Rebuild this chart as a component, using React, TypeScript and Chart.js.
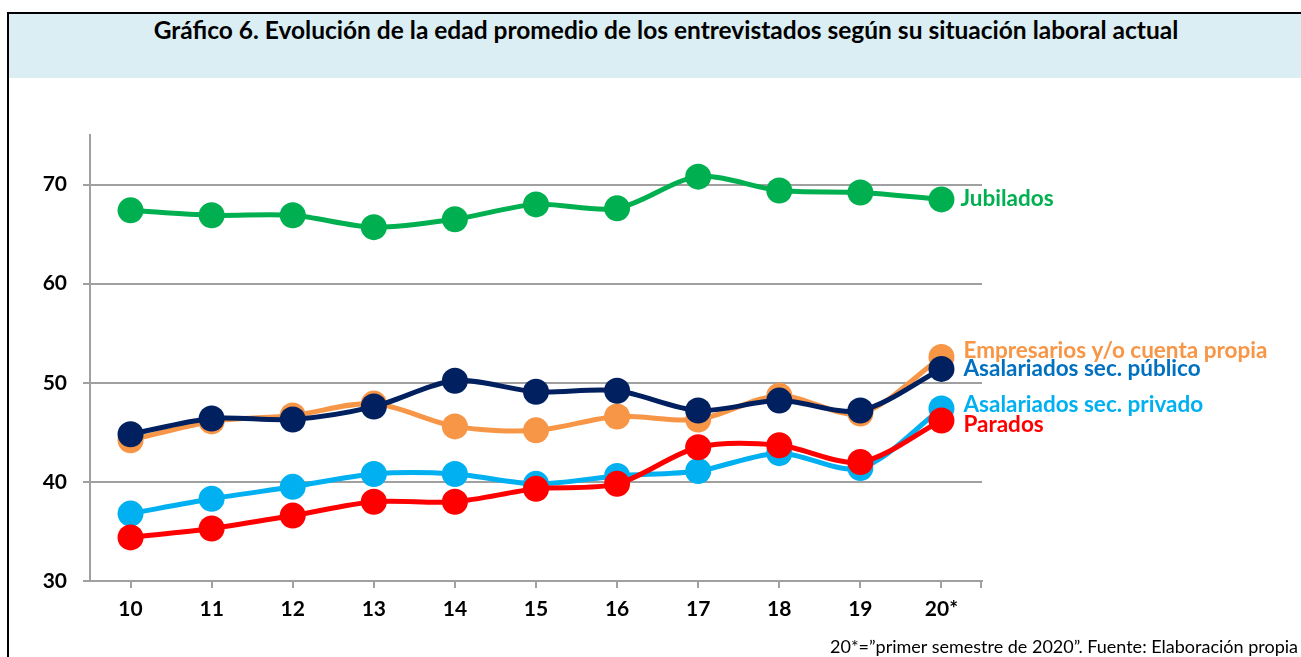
import React, { useEffect, useRef } from "react";
import { Chart, registerables } from "chart.js";

Chart.register(...registerables);

const categories = ["10", "11", "12", "13", "14", "15", "16", "17", "18", "19", "20*"];
const jubilados = [67.4, 66.9, 66.9, 65.7, 66.5, 68.0, 67.6, 70.8, 69.4, 69.2, 68.5];
const publico = [44.8, 46.4, 46.3, 47.6, 50.2, 49.1, 49.2, 47.2, 48.2, 47.2, 51.4];
const empresarios = [44.2, 46.1, 46.7, 47.9, 45.6, 45.2, 46.6, 46.3, 48.7, 46.9, 52.6];
const privado = [36.8, 38.3, 39.5, 40.8, 40.8, 39.8, 40.6, 41.1, 42.9, 41.4, 47.4];
const parados = [34.4, 35.3, 36.6, 38.0, 38.0, 39.3, 39.8, 43.5, 43.7, 42.0, 46.2];
const yTicks = [30, 40, 50, 60, 70];

const FONT = "Lato, 'Open Sans', sans-serif";

const series = [
  { name: "Jubilados", data: jubilados, color: "#00B050", labelColor: "#00B050", dx: 19, dy: 7 },
  { name: "Asalariados sec. público", data: publico, color: "#002060", labelColor: "#0070C0", dx: 22, dy: 7 },
  { name: "Empresarios y/o cuenta propia", data: empresarios, color: "#F79646", labelColor: "#F79646", dx: 22, dy: 1 },
  { name: "Parados", data: parados, color: "#FF0000", labelColor: "#FF0000", dx: 22, dy: 12 },
  { name: "Asalariados sec. privado", data: privado, color: "#00B0F0", labelColor: "#00B0F0", dx: 22, dy: 3 },
];

const endLabels = {
  id: "endLabels",
  afterDatasetsDraw(chart: any) {
    const ctx = chart.ctx;
    ctx.save();
    ctx.font = `bold 22.5px ${FONT}`;
    ctx.textBaseline = "alphabetic";
    ctx.textAlign = "left";
    chart.data.datasets.forEach((ds: any, i: number) => {
      const meta = chart.getDatasetMeta(i);
      const last = meta.data[meta.data.length - 1];
      const s = series[i];
      ctx.fillStyle = s.labelColor;
      ctx.fillText(s.name, last.x + s.dx, last.y + s.dy);
    });
    ctx.restore();
  },
};

const endTick = {
  id: "endTick",
  afterDraw(chart: any) {
    const { ctx, chartArea } = chart;
    ctx.save();
    ctx.strokeStyle = "#A0A0A0";
    ctx.lineWidth = 2;
    ctx.beginPath();
    ctx.moveTo(chartArea.right - 1, chartArea.bottom);
    ctx.lineTo(chartArea.right - 1, chartArea.bottom + 7);
    ctx.stroke();
    ctx.restore();
  },
};

export default function App() {
  const ref = useRef<HTMLCanvasElement>(null);
  useEffect(() => {
    document.body.style.margin = "0";
    const chart = new Chart(ref.current!, {
      type: "line",
      data: {
        labels: categories,
        datasets: series.map((s) => ({
          label: s.name,
          data: s.data,
          borderColor: s.color,
          backgroundColor: s.color,
          pointBackgroundColor: s.color,
          pointBorderColor: s.color,
          borderWidth: 5,
          pointRadius: 13,
          pointBorderWidth: 0,
          tension: 0.3,
          fill: false,
          clip: false as any,
        })),
      },
      options: {
        animation: false,
        responsive: false,
        maintainAspectRatio: false,
        layout: { padding: { left: 0, top: 135, right: 319, bottom: 26 } },
        plugins: { legend: { display: false }, tooltip: { enabled: false } },
        scales: {
          x: {
            offset: true,
            afterFit: (s: any) => { s.height = 50; },
            grid: { drawOnChartArea: false, offset: false, color: "#A0A0A0", lineWidth: 2, tickLength: 7 },
            border: { color: "#A0A0A0", width: 2 },
            ticks: { color: "#000", font: { family: FONT, size: 21, weight: "bold" }, padding: 9, maxRotation: 0 },
          },
          y: {
            min: 30,
            max: 75,
            afterFit: (s: any) => { s.width = 90; },
            afterBuildTicks: (s: any) => { s.ticks = yTicks.map((v) => ({ value: v })); },
            grid: { color: "#A0A0A0", lineWidth: 2, tickLength: 7 },
            border: { color: "#A0A0A0", width: 2 },
            ticks: { color: "#000", font: { family: FONT, size: 21, weight: "bold" }, padding: 16 },
          },
        },
      },
      plugins: [endLabels, endTick],
    });
    return () => chart.destroy();
  }, []);

  return (
    <div style={{ position: "fixed", left: 0, top: 0, width: 1301, height: 657, background: "#fff", overflow: "hidden" }}>
      <div style={{ position: "absolute", left: 7, top: 12, width: 1300, height: 660, borderLeft: "2px solid #000", borderTop: "2px solid #000" }} />
      <div style={{ position: "absolute", left: 9, top: 14, width: 1292, height: 64, background: "#DAEEF3" }} />
      <div style={{ position: "absolute", left: 20, top: 15, width: 1292, textAlign: "center", fontFamily: FONT, fontWeight: 700, fontSize: 24.5, color: "#000", whiteSpace: "nowrap" }}>
        Gráfico 6. Evolución de la edad promedio de los entrevistados según su situación laboral actual
      </div>
      <canvas ref={ref} width={1301} height={657} style={{ position: "absolute", left: 0, top: 0 }} />
      <div style={{ position: "absolute", right: 3, top: 635, fontFamily: FONT, fontSize: 18, color: "#000", whiteSpace: "nowrap" }}>
        20*=”primer semestre de 2020”. Fuente: Elaboración propia
      </div>
    </div>
  );
}
